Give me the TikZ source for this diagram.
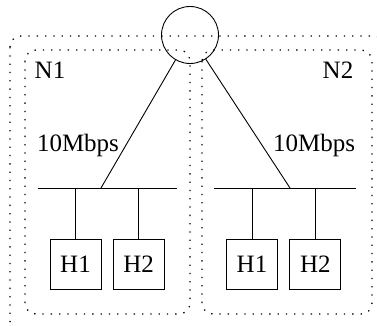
\documentclass[tikz,border=0pt]{standalone}
\usepackage{fontspec}
\setmainfont{Liberation Serif}
\begin{document}
\begin{tikzpicture}[x=1pt,y=-1pt,
  wire/.style={line width=0.9pt},
  region/.style={line width=1.3pt, dash pattern=on 1.3pt off 7pt, rounded corners=11pt},
  host/.style={draw, line width=0.9pt, minimum width=51pt, minimum height=50pt, inner sep=0pt},
  lbl/.style={inner sep=0pt, font=\fontsize{25}{30}\selectfont}]
\useasboundingbox (0,0) rectangle (377,326);
\clip (0,0) rectangle (377,326);

% network regions
\draw[region] (10,36) rectangle (384,332);
\draw[region] (25,50) rectangle (190,314);
\draw[region] (202,50) rectangle (372,314);

% router
\node[draw, circle, line width=0.9pt, minimum size=57pt, inner sep=0pt] (router) at (190,35) {};

% labels
\node[lbl] (n1) at (50,70) {N1};
\node[lbl] (n2) at (338,70) {N2};
\node[lbl] (rate1) at (78,145) {10Mbps};
\node[lbl] (rate2) at (314,145) {10Mbps};

% Ethernet buses
\coordinate (busLa) at (37.5,188);
\coordinate (busLb) at (177,188);
\coordinate (busRa) at (214,188);
\coordinate (busRb) at (356,188);
\coordinate (tapL) at (101,188);
\coordinate (tapR) at (290,188);
\draw[wire] (busLa) -- (busLb);
\draw[wire] (busRa) -- (busRb);
\draw[wire] (tapL) -- (router);
\draw[wire] (tapR) -- (router);

% hosts
\node[host, lbl] (h1L) at (75.5,264) {H1};
\node[host, lbl] (h2L) at (138.7,264) {H2};
\node[host, lbl] (h1R) at (252,264) {H1};
\node[host, lbl] (h2R) at (315.3,264) {H2};
\draw[wire] (h1L.north) -- (h1L.north |- busLa);
\draw[wire] (h2L.north) -- (h2L.north |- busLa);
\draw[wire] (h1R.north) -- (h1R.north |- busRa);
\draw[wire] (h2R.north) -- (h2R.north |- busRa);
\end{tikzpicture}
\end{document}
